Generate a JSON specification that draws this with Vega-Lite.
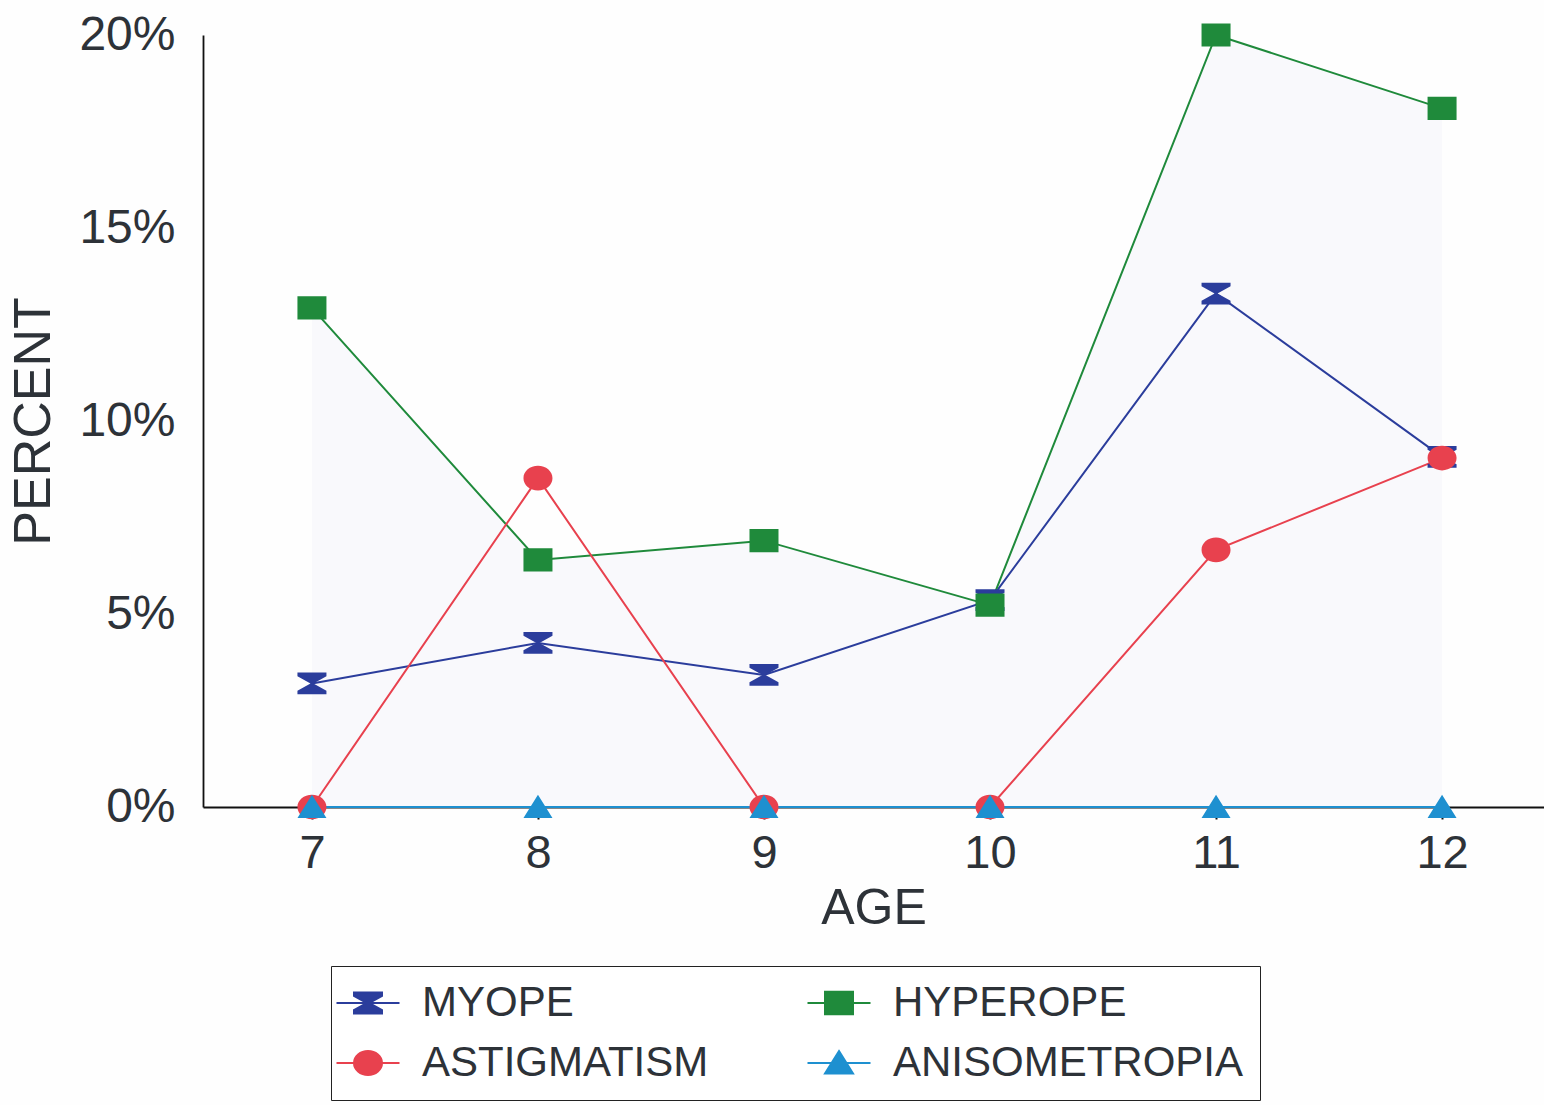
{
  "$schema": "https://vega.github.io/schema/vega-lite/v6.json",
  "width": 1341,
  "height": 772,
  "autosize": {"type": "none"},
  "padding": {"left": 203, "top": 35, "right": 0, "bottom": 298},
  "background": "#fefefe",
  "config": {
    "view": {"stroke": null},
    "font": "Liberation Sans",
    "axis": {"labelFont": "Liberation Sans", "titleFont": "Liberation Sans", "labelColor": "#2d3238", "titleColor": "#2d3238", "titleFontWeight": "normal", "grid": false, "domainColor": "#111111", "domainWidth": 1.8, "tickColor": "#111111"},
    "legend": {
      "orient": "none", "legendX": 128, "legendY": 931, "direction": "horizontal", "columns": 2,
      "padding": 16, "fillColor": "#ffffff", "strokeColor": "#222222",
      "labelFontSize": 42, "labelColor": "#2d3238", "labelFont": "Liberation Sans", "labelLimit": 600,
      "labelOffset": 33, "symbolSize": 784, "symbolStrokeWidth": 2, "columnPadding": 94, "rowPadding": 18
    }
  },
  "data": {
    "values": [
      {"series": "MYOPE", "age": 7, "value": 3.2},
      {"series": "MYOPE", "age": 8, "value": 4.25},
      {"series": "MYOPE", "age": 9, "value": 3.42},
      {"series": "MYOPE", "age": 10, "value": 5.36},
      {"series": "MYOPE", "age": 11, "value": 13.3},
      {"series": "MYOPE", "age": 12, "value": 9.07},
      {"series": "HYPEROPE", "age": 7, "value": 12.93},
      {"series": "HYPEROPE", "age": 8, "value": 6.4},
      {"series": "HYPEROPE", "age": 9, "value": 6.9},
      {"series": "HYPEROPE", "age": 10, "value": 5.23},
      {"series": "HYPEROPE", "age": 11, "value": 20.0},
      {"series": "HYPEROPE", "age": 12, "value": 18.1},
      {"series": "ASTIGMATISM", "age": 7, "value": 0},
      {"series": "ASTIGMATISM", "age": 8, "value": 8.52},
      {"series": "ASTIGMATISM", "age": 9, "value": 0},
      {"series": "ASTIGMATISM", "age": 10, "value": 0},
      {"series": "ASTIGMATISM", "age": 11, "value": 6.66},
      {"series": "ASTIGMATISM", "age": 12, "value": 9.04},
      {"series": "ANISOMETROPIA", "age": 7, "value": 0},
      {"series": "ANISOMETROPIA", "age": 8, "value": 0},
      {"series": "ANISOMETROPIA", "age": 9, "value": 0},
      {"series": "ANISOMETROPIA", "age": 10, "value": 0},
      {"series": "ANISOMETROPIA", "age": 11, "value": 0},
      {"series": "ANISOMETROPIA", "age": 12, "value": 0}
    ]
  },
  "encoding": {
    "x": {
      "field": "age", "type": "quantitative",
      "scale": {"domain": [6.518, 12.451], "nice": false, "zero": false},
      "axis": {"values": [7, 8, 9, 10, 11, 12], "title": "AGE", "labelFontSize": 47, "titleFontSize": 50, "tickSize": 12, "tickWidth": 2, "labelPadding": 11, "titlePadding": 7, "labelFlush": false}
    },
    "y": {
      "field": "value", "type": "quantitative",
      "scale": {"domain": [0, 20], "nice": false},
      "axis": {"values": [0, 5, 10, 15, 20], "labelExpr": "datum.value + '%'", "title": "PERCENT", "labelFontSize": 48, "titleFontSize": 52, "ticks": false, "labelPadding": 28, "titlePadding": 18, "labelFlush": false}
    },
    "color": {"field": "series", "type": "nominal",
      "scale": {"domain": ["MYOPE", "HYPEROPE", "ASTIGMATISM", "ANISOMETROPIA"], "range": ["#2b3d9c", "#1f8a3b", "#e8414e", "#1e90d0"]},
      "legend": {"title": null, "orient": "none", "legendX": 128, "legendY": 931, "direction": "horizontal", "columns": 2}
    }
  },
  "layer": [
    {
      "transform": [{"filter": "datum.series === 'HYPEROPE'"}],
      "mark": {"type": "area", "opacity": 1},
      "encoding": {"color": {"value": "#f9f9fc"}}
    },
    {
      "mark": {"type": "line", "strokeWidth": 2},
      "encoding": {"detail": {"field": "series"}}
    },
    {
      "mark": {"type": "point", "filled": true, "opacity": 1, "size": 841},
      "encoding": {
        "stroke": {"field": "series", "type": "nominal",
          "scale": {"domain": ["MYOPE", "HYPEROPE", "ASTIGMATISM", "ANISOMETROPIA"], "range": ["#2b3d9c", "#1f8a3b", "#e8414e", "#1e90d0"]},
          "legend": {"title": null, "orient": "none", "legendX": 128, "legendY": 931, "direction": "horizontal", "columns": 2}},
        "strokeWidth": {"value": 0},
        "shape": {"field": "series", "type": "nominal",
          "legend": {"title": null, "orient": "none", "legendX": 128, "legendY": 931, "direction": "horizontal", "columns": 2},
          "scale": {"domain": ["MYOPE", "HYPEROPE", "ASTIGMATISM", "ANISOMETROPIA"],
            "range": ["M-2.25,0H2.25M-1,-0.75H1V-0.5L0.1,0L1,0.5V0.75H-1V0.5L-0.1,0L-1,-0.5Z", "M-2.25,0H2.25M-1,-0.8H1V0.8H-1Z", "M-2.25,0H2.25M1,0A1,0.85 0 1,1 -1,0A1,0.85 0 1,1 1,0Z", "M-2.25,0H2.25M0,-0.85L1,0.75H-1Z"]}}
      }
    }
  ]
}
